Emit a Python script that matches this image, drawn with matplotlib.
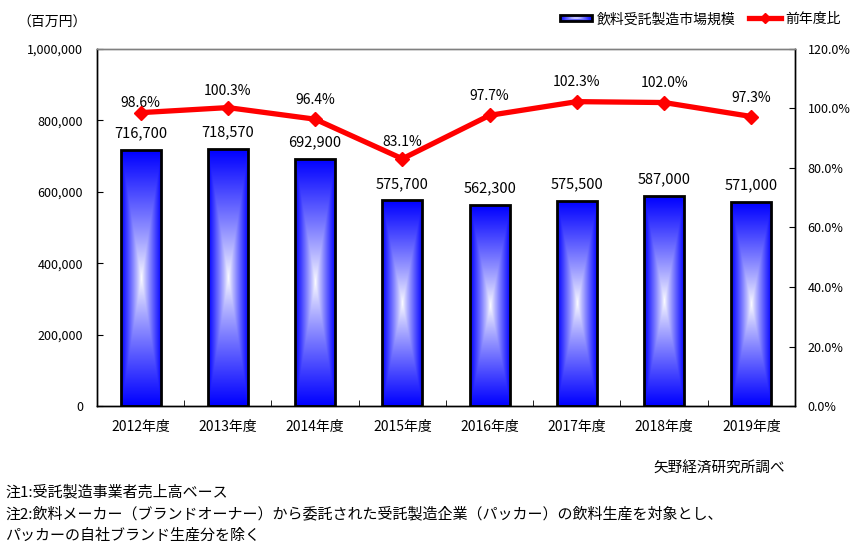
import numpy as np
import matplotlib

matplotlib.use("Agg")
import matplotlib.pyplot as plt  # noqa: E402
from matplotlib.patches import Rectangle  # noqa: E402
from matplotlib.lines import Line2D  # noqa: E402
from matplotlib.legend_handler import HandlerBase  # noqa: E402
from matplotlib.image import BboxImage  # noqa: E402
from matplotlib.transforms import Bbox, TransformedBbox  # noqa: E402

plt.rcParams["font.family"] = ["Noto Sans CJK JP", "DejaVu Sans"]

years = ["2012年度", "2013年度", "2014年度", "2015年度",
         "2016年度", "2017年度", "2018年度", "2019年度"]
market = [716700, 718570, 692900, 575700, 562300, 575500, 587000, 571000]
yoy = [98.6, 100.3, 96.4, 83.1, 97.7, 102.3, 102.0, 97.3]
left_ticks = [0, 200000, 400000, 600000, 800000, 1000000]
right_ticks = [0, 20, 40, 60, 80, 100, 120]

BLUE = np.array([0.0, 0.0, 1.0])
WHITE = np.array([1.0, 1.0, 1.0])


def _gradient(nx=60, ny=200):
    """rectangular path gradient: white centre -> blue edges"""
    u = np.linspace(-1, 1, nx)
    v = np.linspace(-1, 1, ny)
    U, V = np.meshgrid(u, v)
    t = np.maximum(np.abs(U), np.abs(V))
    t = t ** 0.85
    img = WHITE * (1 - t[..., None]) + BLUE * t[..., None]
    return img


class HandlerGradient(HandlerBase):
    def create_artists(self, legend, orig, xd, yd, w, h, fs, trans):
        bb = TransformedBbox(Bbox.from_bounds(-xd, -yd + h * 0.2, w, h * 0.6), trans)
        im = BboxImage(bb, interpolation="bilinear")
        im.set_data(_gradient(80, 12))
        rect = Rectangle((-xd, -yd + h * 0.2), w, h * 0.6, facecolor="none",
                         edgecolor="black", linewidth=2, transform=trans)
        return [im, rect]


fig = plt.figure(figsize=(8.66, 5.46), dpi=100)
ax = fig.add_axes([0.112, 0.2564, 0.806, 0.6539])
ax2 = ax.twinx()

x = np.arange(len(years))
bars = ax.bar(x, market, width=0.46, facecolor="none", edgecolor="black",
              linewidth=2, zorder=3)
grad = _gradient()
for b in bars:
    x0, y0 = b.get_x(), b.get_y()
    im = ax.imshow(grad, extent=(x0, x0 + b.get_width(), y0, y0 + b.get_height()),
                   aspect="auto", interpolation="bilinear", zorder=2)
    im.set_clip_path(b)

ax.set_xlim(-0.5, len(years) - 0.5)
ax.set_ylim(0, 1000000)
ax.set_yticks(left_ticks)
ax.set_yticklabels([f"{v:,}" for v in left_ticks], fontsize=9)
ax.set_xticks(x)
ax.set_xticklabels(years, fontsize=10)
ax.set_xticks(np.arange(len(years) + 1) - 0.5, minor=True)
ax.tick_params(axis="x", which="major", length=0, pad=10)
ax.tick_params(axis="x", which="minor", direction="in", length=4)
ax.tick_params(axis="y", direction="in", length=4, pad=10)

for b, v in zip(bars, market):
    ax.annotate(f"{v:,}", (b.get_x() + b.get_width() / 2, b.get_height()),
                xytext=(0, 12), textcoords="offset points",
                ha="center", va="center", fontsize=10.5)

# line on the right axis
lbl_off = [7, 12, 14, 12, 14, 14, 14, 13]
ax2.plot(x, yoy, color="#ff0000", linewidth=3.8, marker="D", markersize=7,
         solid_joinstyle="miter", zorder=5)
ax2.set_ylim(0, 120)
ax2.set_yticks(right_ticks)
ax2.set_yticklabels([f"{v:.1f}%" for v in right_ticks], fontsize=9)
ax2.tick_params(axis="y", direction="in", length=4, pad=9)
for xi, v, off in zip(x, yoy, lbl_off):
    ax2.annotate(f"{v:.1f}%", (xi, v), xytext=(0, off), textcoords="offset points",
                 ha="center", va="center", fontsize=10)

for a in (ax, ax2):
    for s in a.spines.values():
        s.set_linewidth(1)
        s.set_color("black")
    a.spines["top"].set_color("#808080")

ax.text(-0.065, 1.075, "（百万円）", transform=ax.transAxes, fontsize=10,
        ha="center", va="center")

handles = [Rectangle((0, 0), 1, 1), Line2D([], [], color="#ff0000", linewidth=3.8,
                                            marker="D", markersize=5)]
fig.legend(handles, ["飲料受託製造市場規模", "前年度比"], ncol=2, fontsize=10,
           loc="center right", bbox_to_anchor=(0.985, 0.965), frameon=False,
           handlelength=2.3, handletextpad=0.3, columnspacing=1.0,
           handler_map={Rectangle: HandlerGradient()})

fig.text(0.907, 0.143, "矢野経済研究所調べ", fontsize=10.5, ha="right", va="center")
fig.text(0.006, 0.099, "注1:受託製造事業者売上高ベース", fontsize=10.8, va="center")
fig.text(0.006, 0.059, "注2:飲料メーカー（ブランドオーナー）から委託された受託製造企業（パッカー）の飲料生産を対象とし、",
         fontsize=10.8, va="center")
fig.text(0.006, 0.019, "パッカーの自社ブランド生産分を除く", fontsize=10.8, va="center")

fig.savefig("out.png", dpi=100)
